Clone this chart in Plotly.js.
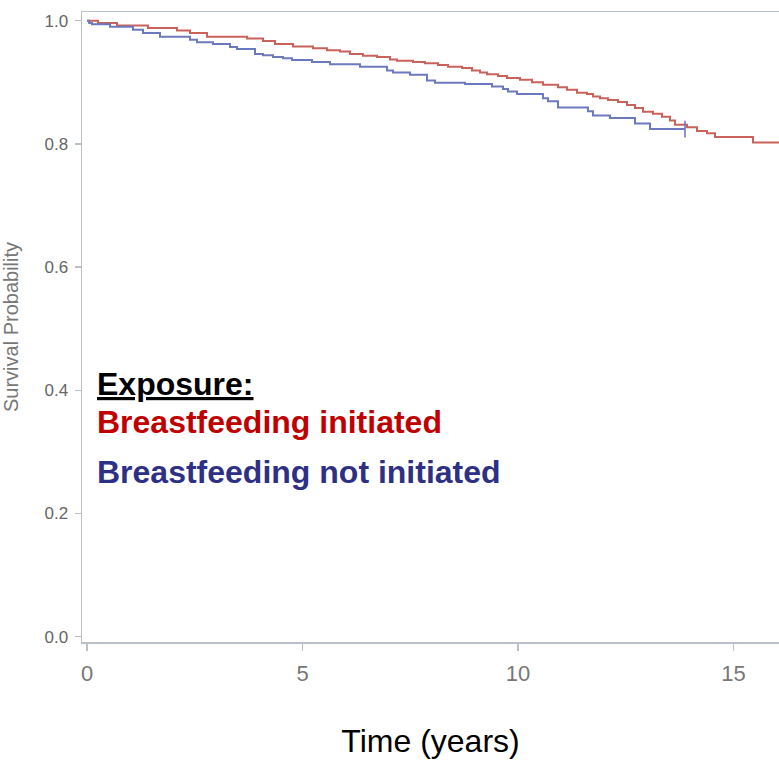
<!DOCTYPE html>
<html>
<head>
<meta charset="utf-8">
<script src="https://cdn.plot.ly/plotly-3.0.1.min.js"></script>
<style>html,body{margin:0;padding:0;background:#fff;}#chart{width:779px;height:762px;}</style>
</head>
<body>
<div id="chart"></div>
<script>
// Time (years) at each step and the survival probability from that time on
const redTime = [0, 0.255, 0.696, 1.415, 2.088, 2.39, 2.784, 3.712, 4.083, 4.362, 4.78, 5.244, 5.568, 5.87, 6.102, 6.404, 6.729, 7.03, 7.193, 7.564, 7.842, 8.144, 8.376, 8.701, 8.933, 9.118, 9.281, 9.536, 9.745, 10.046, 10.325, 10.58, 10.928, 11.137, 11.369, 11.601, 11.74, 11.903, 12.088, 12.32, 12.529, 12.715, 12.9, 13.132, 13.341, 13.527, 13.643, 13.921, 14.153, 14.385, 14.571, 15.452, 16.3];
const redSurv = [1.0, 0.996, 0.992, 0.988, 0.984, 0.980, 0.974, 0.971, 0.967, 0.962, 0.958, 0.955, 0.952, 0.950, 0.946, 0.943, 0.941, 0.937, 0.935, 0.933, 0.931, 0.928, 0.925, 0.923, 0.919, 0.916, 0.913, 0.910, 0.907, 0.904, 0.900, 0.896, 0.892, 0.888, 0.883, 0.881, 0.877, 0.874, 0.871, 0.868, 0.863, 0.858, 0.852, 0.849, 0.844, 0.838, 0.831, 0.827, 0.821, 0.817, 0.811, 0.802, 0.802];

const blueTime = [0, 0.05, 0.116, 0.534, 1.067, 1.299, 1.694, 2.39, 2.552, 2.923, 3.318, 3.48, 3.898, 4.084, 4.316, 4.548, 4.756, 5.22, 5.638, 6.334, 6.961, 7.1, 7.494, 7.889, 8.074, 8.77, 9.397, 9.652, 9.768, 9.977, 10.58, 10.696, 10.928, 11.624, 11.74, 12.135, 12.715, 13.063, 13.875];
const blueSurv = [1.0, 0.996, 0.994, 0.990, 0.985, 0.980, 0.974, 0.969, 0.965, 0.962, 0.957, 0.954, 0.946, 0.944, 0.941, 0.939, 0.936, 0.933, 0.929, 0.925, 0.919, 0.916, 0.912, 0.903, 0.899, 0.897, 0.893, 0.889, 0.885, 0.881, 0.874, 0.869, 0.859, 0.853, 0.846, 0.842, 0.833, 0.824, 0.824];

const xTicks = [0, 5, 10, 15];
const yTicks = [0, 0.2, 0.4, 0.6, 0.8, 1.0];
const legendTitle = 'Exposure:';
const seriesNames = ['Breastfeeding initiated', 'Breastfeeding not initiated'];

const redLine = '#c9625b';
const blueLine = '#6c7abd';
const axisCol = '#b9c0c7';
const narrow = '"Liberation Sans Narrow", "Arial Narrow", "Liberation Sans", Arial, sans-serif';
const sans = '"Liberation Sans", Arial, sans-serif';

const lastB = blueTime.length - 1;
const traces = [
  {x: redTime, y: redSurv, type: 'scatter', mode: 'lines', line: {shape: 'hv', color: redLine, width: 2}, name: seriesNames[0], hoverinfo: 'x+y'},
  {x: blueTime, y: blueSurv, type: 'scatter', mode: 'lines', line: {shape: 'hv', color: blueLine, width: 2}, name: seriesNames[1], hoverinfo: 'x+y'},
  {x: [blueTime[lastB]], y: [blueSurv[lastB]], type: 'scatter', mode: 'markers', marker: {symbol: 'line-ns-open', size: 12, color: blueLine, line: {color: blueLine, width: 1.6}}, hoverinfo: 'skip', showlegend: false}
];

const layout = {
  width: 779, height: 762,
  margin: {l: 82, r: 0, t: 12, b: 120},
  paper_bgcolor: '#fff', plot_bgcolor: '#fff',
  showlegend: false,
  xaxis: {
    range: [-0.116, 16.056], tickvals: xTicks, ticks: 'outside', ticklen: 7, tickwidth: 1.5, tickcolor: axisCol,
    showline: true, linecolor: axisCol, linewidth: 1.5, mirror: true,
    showgrid: false, zeroline: false, ticklabelstandoff: 4,
    tickfont: {family: sans, size: 22, color: '#777'},
    title: {text: 'Time (years)', font: {family: sans, size: 32, color: '#000'}, standoff: 44},
    automargin: false
  },
  yaxis: {
    range: [-0.0086, 1.014], tickvals: yTicks, tickformat: '.1f', ticks: 'outside', ticklen: 6, tickwidth: 1.5, tickcolor: axisCol,
    showline: true, linecolor: axisCol, linewidth: 1.5,
    showgrid: false, zeroline: false, ticklabelstandoff: 3,
    tickfont: {family: narrow, size: 17, color: '#666'},
    title: {text: 'Survival Probability', font: {family: sans, size: 20, color: '#777'}, standoff: 20},
    automargin: false
  },
  annotations: [
    {xref: 'x', yref: 'y', x: 0.19, y: 0.410, xanchor: 'left', yanchor: 'middle', showarrow: false,
     text: '<u><b>' + legendTitle + '</b></u>', font: {family: sans, size: 32, color: '#000'}},
    {xref: 'x', yref: 'y', x: 0.19, y: 0.3485, xanchor: 'left', yanchor: 'middle', showarrow: false,
     text: '<b>' + seriesNames[0] + '</b>', font: {family: sans, size: 32, color: '#c00000'}},
    {xref: 'x', yref: 'y', x: 0.19, y: 0.2674, xanchor: 'left', yanchor: 'middle', showarrow: false,
     text: '<b>' + seriesNames[1] + '</b>', font: {family: sans, size: 32, color: '#2e3085'}}
  ]
};

Plotly.newPlot('chart', traces, layout, {displayModeBar: false, staticPlot: true});
</script>
</body>
</html>
